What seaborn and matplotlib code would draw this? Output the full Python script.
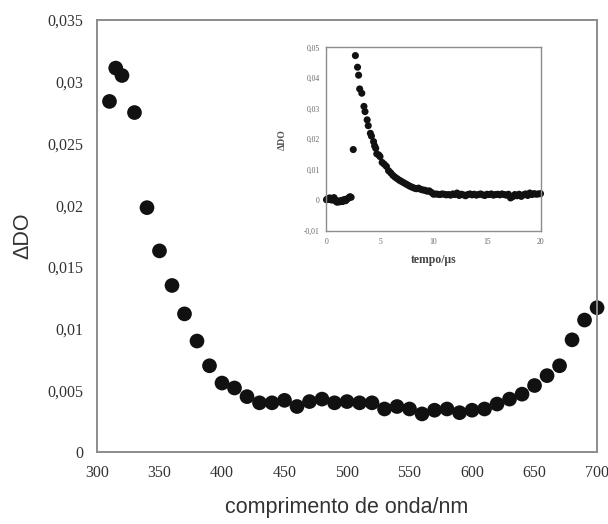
import numpy as np
import pandas as pd
import matplotlib
matplotlib.use("Agg")
import matplotlib.pyplot as plt
from matplotlib.ticker import FuncFormatter, MultipleLocator
import seaborn as sns

# main spectrum: wavelength (nm) vs delta OD
wavelength = [310, 315, 320, 330, 340, 350, 360, 370, 380, 390, 400, 410, 420,
              430, 440, 450, 460, 470, 480, 490, 500, 510, 520, 530, 540, 550,
              560, 570, 580, 590, 600, 610, 620, 630, 640, 650, 660, 670, 680,
              690, 700]
delta_od = [0.0284, 0.0311, 0.0305, 0.0275, 0.0198, 0.0163, 0.0135, 0.0112,
            0.0090, 0.0070, 0.0056, 0.0052, 0.0045, 0.0040, 0.0040, 0.0042,
            0.0037, 0.0041, 0.0043, 0.0040, 0.0041, 0.0040, 0.0040, 0.0035,
            0.0037, 0.0035, 0.0031, 0.0034, 0.0035, 0.0032, 0.0034, 0.0035,
            0.0039, 0.0043, 0.0047, 0.0054, 0.0062, 0.0070, 0.0091, 0.0107,
            0.0117]

# inset: kinetic trace (time in microseconds)
t_base = [0.0, 0.1, 0.2, 0.3, 0.4, 0.5, 0.6, 0.7, 0.8, 0.9, 1.0, 1.1, 1.2,
          1.3, 1.4, 1.5, 1.6, 1.7, 1.8, 1.9, 2.0, 2.1, 2.2, 2.3]
od_base = [0.0002, 0.0005, 0.0003, 0.0008, 0.0004, 0.0001, 0.0006, 0.0009,
           0.0002, -0.0004, -0.0006, -0.0002, -0.0005, -0.0003, 0.0000,
           -0.0004, 0.0001, 0.0003, -0.0001, 0.0004, 0.0006, 0.0009, 0.0012,
           0.0010]
t_decay = [2.5, 2.7, 2.9, 3.0, 3.1, 3.3, 3.5, 3.6, 3.8, 3.9, 4.1, 4.2, 4.4,
           4.5, 4.6, 4.7, 4.9, 5.0, 5.2, 5.4, 5.6, 5.8, 6.0, 6.2, 6.4, 6.6,
           6.8, 7.0, 7.2, 7.4, 7.6, 7.8, 8.0, 8.2, 8.4, 8.6, 8.8, 9.0, 9.2,
           9.4, 9.6, 9.8, 10.0]
od_decay = [0.0166, 0.0473, 0.0435, 0.0409, 0.0364, 0.0350, 0.0307, 0.0290,
            0.0263, 0.0244, 0.0219, 0.0210, 0.0192, 0.0178, 0.0170, 0.0152,
            0.0148, 0.0143, 0.0124, 0.0118, 0.0111, 0.0097, 0.0090, 0.0082,
            0.0076, 0.0071, 0.0066, 0.0062, 0.0058, 0.0054, 0.0050, 0.0046,
            0.0043, 0.0040, 0.0038, 0.0040, 0.0036, 0.0034, 0.0033, 0.0030,
            0.0031, 0.0026, 0.0020]
t_tail = [10.2, 10.4, 10.6, 10.8, 11.0, 11.2, 11.4, 11.6, 11.8, 12.0, 12.2,
          12.4, 12.6, 12.8, 13.0, 13.2, 13.4, 13.6, 13.8, 14.0, 14.2, 14.4,
          14.6, 14.8, 15.0, 15.2, 15.4, 15.6, 15.8, 16.0, 16.2, 16.4, 16.6,
          16.8, 17.0, 17.2, 17.4, 17.6, 17.8, 18.0, 18.2, 18.4, 18.6, 18.8,
          19.0, 19.2, 19.4, 19.6, 19.8, 20.0]
od_tail = [0.0021, 0.0020, 0.0019, 0.0021, 0.0020, 0.0018, 0.0019, 0.0017,
           0.0021, 0.0019, 0.0024, 0.0016, 0.0020, 0.0018, 0.0015, 0.0019,
           0.0021, 0.0018, 0.0020, 0.0017, 0.0019, 0.0021, 0.0018, 0.0016,
           0.0020, 0.0019, 0.0021, 0.0017, 0.0019, 0.0020, 0.0018, 0.0021,
           0.0019, 0.0017, 0.0020, 0.0008, 0.0012, 0.0019, 0.0015, 0.0020,
           0.0013, 0.0018, 0.0021, 0.0016, 0.0024, 0.0019, 0.0022, 0.0020,
           0.0021, 0.0022]

spec = pd.DataFrame({"wl": wavelength, "od": delta_od})
kin = pd.DataFrame({"t": t_base + t_decay + t_tail,
                    "od": od_base + od_decay + od_tail})

sns.set_style("white")
plt.rcParams["font.family"] = ["Liberation Serif", "DejaVu Serif"]

spine_col = "#8c8c8c"
text_col = "#333333"
comma = FuncFormatter(lambda v, p: f"{v:g}".replace(".", ","))

fig = plt.figure(figsize=(6.08, 5.24), dpi=100)
ax = fig.add_axes([0.1595, 0.137, 0.8225, 0.825])

sns.scatterplot(data=spec, x="wl", y="od", ax=ax, s=112, color="#111111",
                edgecolor="none", clip_on=False)
ax.set_xlim(300, 700)
ax.set_ylim(0, 0.035)
ax.xaxis.set_major_locator(MultipleLocator(50))
ax.yaxis.set_major_locator(MultipleLocator(0.005))
ax.yaxis.set_major_formatter(comma)
ax.tick_params(direction="in", length=5, width=1.2, color=spine_col,
               labelsize=11.5, labelcolor=text_col)
ax.tick_params(axis="y", pad=10)
ax.tick_params(axis="x", pad=9)
for sp in ax.spines.values():
    sp.set_color(spine_col)
    sp.set_linewidth(1.4)
ax.set_xlabel("comprimento de onda/nm", family="Liberation Sans",
              fontsize=15.5, color=text_col, labelpad=12)
ax.set_ylabel("ΔDO", family="Liberation Sans", fontsize=15.5,
              color=text_col, labelpad=10)

# inset
ins = fig.add_axes([0.537, 0.5592, 0.352, 0.3505])
sns.scatterplot(data=kin, x="t", y="od", ax=ins, s=26, color="#111111",
                edgecolor="none", clip_on=False)
ins.set_xlim(0, 20)
ins.set_ylim(-0.01, 0.05)
ins.xaxis.set_major_locator(MultipleLocator(5))
ins.yaxis.set_major_locator(MultipleLocator(0.01))
ins.yaxis.set_major_formatter(comma)
ins.tick_params(direction="in", length=3, width=0.8, color=spine_col,
                labelsize=5.5, labelcolor="#666666", pad=5)
for sp in ins.spines.values():
    sp.set_color(spine_col)
    sp.set_linewidth(1.0)
ins.set_xlabel("tempo/μs", fontsize=8.5, fontweight="bold",
               color="#444444", labelpad=6)
ins.set_ylabel("ΔDO", fontsize=7, fontweight="bold", color="#555555",
               labelpad=12)

fig.savefig("out.png", dpi=100)
